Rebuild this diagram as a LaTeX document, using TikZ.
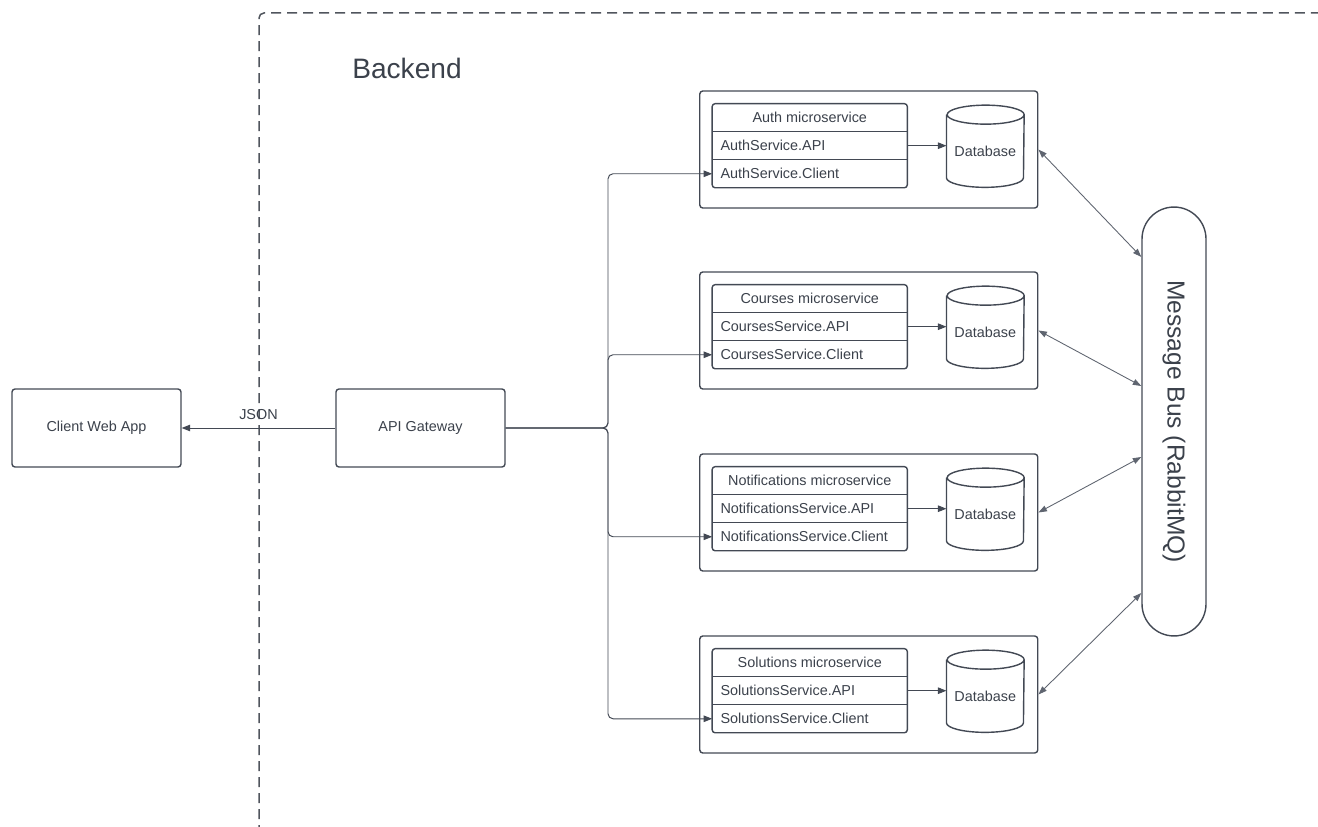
\documentclass[tikz,border=0pt]{standalone}
\usepackage{fontspec}
\setmainfont{Liberation Sans}
\usepackage{graphicx}
\usetikzlibrary{positioning,arrows.meta}

\definecolor{ink}{HTML}{3B414B}
\definecolor{edge}{HTML}{434954}
\definecolor{wire}{HTML}{5F6570}
\definecolor{dashgray}{HTML}{50555D}

\tikzset{
  small/.style={font=\fontsize{8.2}{10}\selectfont, text=ink},
  box/.style={draw=edge, line width=0.8pt, rounded corners=0.06cm, small,
    minimum width=3.38cm, minimum height=1.56cm},
  svcbox/.style={draw=edge, line width=0.8pt, rounded corners=0.06cm,
    minimum width=6.76cm, minimum height=2.34cm},
  row/.style={small, minimum height=0.547cm, inner ysep=0pt},
  titlerow/.style={row, minimum width=3.89cm, inner xsep=0pt},
  fieldrow/.style={row, text width=3.57cm, align=left, inner xsep=0.16cm},
  dbnode/.style={small, minimum width=1.54cm, minimum height=1.44cm, inner sep=0pt},
  bus/.style={draw=edge, line width=0.8pt, rounded corners=0.64cm, inner sep=0pt,
    minimum width=1.28cm, minimum height=8.58cm,
    font=\fontsize{14}{16}\selectfont, text=ink},
  link/.style={draw=edge, line width=0.55pt, -{Triangle[length=1.7mm,width=1.3mm]}},
  buslink/.style={draw=wire, line width=0.5pt,
    {Triangle[length=1.7mm,width=1.2mm]}-{Triangle[length=1.7mm,width=1.2mm]}},
}

\begin{document}
\begin{tikzpicture}[x=0.02cm, y=-0.02cm]
    \useasboundingbox (0,0) rectangle (1318,827);
    \clip (0,0) rectangle (1318,827);

    % backend boundary
    \draw[dashgray, line width=0.85pt, dash pattern=on 0.2cm off 0.12cm,
      rounded corners=0.1cm] (259,835) -- (259,13) -- (1325,13);
    \node[font=\fontsize{16}{19}\selectfont, text=ink] (backend) at (407,68) {Backend};

    % client and gateway
    \node[box] (client) at (96.5,428) {Client Web App};
    \node[box] (gw) at (420.5,428) {API Gateway};
    \draw[link] (gw.west) -- (client.east) node[midway, above=1pt, small] (json) {JSON};
    \coordinate (split) at (608,428);

    % message bus
    \node[bus] (bus) at (1174,421.5) {\rotatebox{-90}{Message Bus (RabbitMQ)}};

    % microservices
    \foreach \svc/\y/\b in {Auth/91/257, Courses/272/386, Notifications/454/457, Solutions/636/593} {
        \node[svcbox] (svc\svc) at (868.75,\y+58.5) {};
        \node[titlerow] (title\svc) at (809.75,\y+26.67) {\svc{} microservice};
        \node[fieldrow, below=0pt of title\svc] (api\svc) {\svc{}Service.API};
        \node[fieldrow, below=0pt of api\svc] (cli\svc) {\svc{}Service.Client};
        \draw[edge, line width=0.8pt, rounded corners=0.06cm]
          (title\svc.north west) rectangle (cli\svc.south east);
        \draw[edge, line width=0.8pt] (title\svc.south west) -- (title\svc.south east);
        \draw[edge, line width=0.8pt] (api\svc.south west) -- (api\svc.south east);

        \node[dbnode] (db\svc) at (985.3,\y+60) {Database};
        \draw[edge, line width=0.8pt] (db\svc.north west)
          -- ([yshift=0.19cm]db\svc.south west)
          arc[start angle=180, end angle=360, x radius=0.77cm, y radius=0.19cm]
          -- (db\svc.north east)
          arc[start angle=0, end angle=360, x radius=0.77cm, y radius=0.19cm];

        \draw[link] (api\svc.east) -- (db\svc.west |- api\svc.east);
        \draw[link, rounded corners=0.1cm] (gw.east) -- (split) |- (cli\svc.west);
        \draw[buslink] (svc\svc.east) -- (bus.west |- 0,\b);
    }
\end{tikzpicture}
\end{document}
